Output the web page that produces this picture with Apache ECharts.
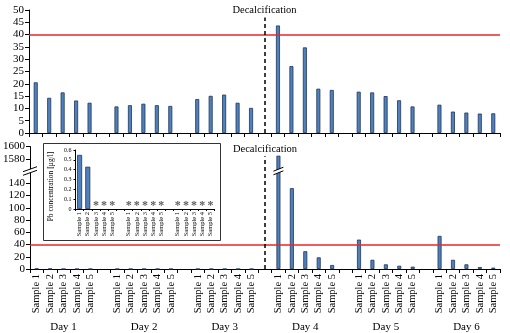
<!DOCTYPE html>
<html><head><meta charset="utf-8">
<script src="https://cdn.jsdelivr.net/npm/echarts@6/dist/echarts.min.js"></script>
<style>html,body{margin:0;padding:0;background:#fff}#c{width:510px;height:333px}</style>
</head><body><div id="c"></div>
<script>
// ---- data ----
const days = ['Day 1', 'Day 2', 'Day 3', 'Day 4', 'Day 5', 'Day 6'];
const samples = ['Sample 1', 'Sample 2', 'Sample 3', 'Sample 4', 'Sample 5'];
// upper panel (Pb concentration, µg/l)
const topDay1 = [20.6, 14.3, 16.5, 13.2, 12.3];
const topDay2 = [10.8, 11.3, 11.9, 11.3, 11.0];
const topDay3 = [13.8, 15.1, 15.6, 12.3, 10.2];
const topDay4 = [43.7, 27.2, 34.8, 18.0, 17.5];
const topDay5 = [16.8, 16.5, 15.0, 13.3, 10.8];
const topDay6 = [11.5, 8.7, 8.3, 7.9, 8.0];
// lower panel (Pb concentration, µg/l)
const botDay1 = [0.55, 0.43, 0, 0, 0];
const botDay2 = [0, 0, 0, 0, 0];
const botDay3 = [0, 0, 0, 0, 0];
const botDay4 = [1585, 132, 29, 19, 6.5];
const botDay5 = [48, 15, 7.6, 5.3, 3.8];
const botDay6 = [54, 15, 7.6, 3.2, 2.2];
// inset (days 1-3 of lower panel); null = not detected (*)
const insetDay1 = [0.55, 0.43, null, null, null];
const insetDay2 = [null, null, null, null, null];
const insetDay3 = [null, null, null, null, null];
const limitValue = 40;
const decalcLabel = 'Decalcification';
const insetAxisName = 'Pb concentration [µg/l]';
// lower axis break: values above breakLow are drawn shifted down by breakShift
const breakLow = 160, breakShift = 1400;
const lowerTickLabels = [0, 20, 40, 60, 80, 100, 120, 140, 1580, 1600];

// ---- build ----
function cats(n) { const c = []; for (let d = 0; d < n; d++) { if (d) c.push(''); samples.forEach(s => c.push(s)); } return c; }
function flat(arrs) { const o = []; arrs.forEach((a, i) => { if (i) o.push(null); a.forEach(v => o.push(v)); }); return o; }
function dayCats(n) { const c = []; for (let d = 0; d < n; d++) { if (d) c.push(''); for (let k = 0; k < 5; k++) c.push(k === 2 ? days[d] : ''); } return c; }
const brk = v => (v == null ? null : (v > breakLow ? v - breakShift : v));

const mainCats = cats(6);
const insetCats = cats(3);
const topData = flat([topDay1, topDay2, topDay3, topDay4, topDay5, topDay6]);
const botData = flat([botDay1, botDay2, botDay3, botDay4, botDay5, botDay6]).map(brk);
const insetData = flat([insetDay1, insetDay2, insetDay3]);
const ndData = insetData.map((v, i) => (v === null && insetCats[i] !== '') ? 0 : null);
const decalcIndex = 3 * 6 - 1; // gap category before Day 4

const FF = 'Liberation Serif';
const blk = '#000';
const barStyle = { color: '#4f81bd', borderColor: '#1f3558', borderWidth: 0.8 };

const chart = echarts.init(document.getElementById('c'), null, { renderer: 'canvas' });
const axisCommon = {
  axisLine: { lineStyle: { color: blk, width: 1 } },
  axisTick: { lineStyle: { color: blk } },
};
const option = {
  animation: false,
  backgroundColor: '#fff',
  textStyle: { fontFamily: FF },
  grid: [
    { left: 29, top: 10, width: 471, height: 123 },
    { left: 29, top: 146.5, width: 471, height: 122.5 },
    { left: 75.5, top: 150, width: 139, height: 59, z: 5 }
  ],
  xAxis: [
    { type: 'category', gridIndex: 0, data: mainCats, ...axisCommon,
      axisTick: { show: true, interval: 0, length: 4, lineStyle: { color: blk } },
      axisLabel: { show: false } },
    { type: 'category', gridIndex: 1, data: mainCats, ...axisCommon,
      axisTick: { show: true, interval: 0, length: 4, lineStyle: { color: blk } },
      axisLabel: { interval: 0, rotate: 90, fontSize: 10.5, fontFamily: FF, color: blk, margin: 5 } },
    { type: 'category', gridIndex: 1, data: dayCats(6), position: 'bottom', offset: 45,
      axisLine: { show: false }, axisTick: { show: false },
      axisLabel: { interval: 0, fontSize: 11, fontFamily: FF, color: blk, margin: 8 } },
    { type: 'category', gridIndex: 2, data: insetCats, z: 6, ...axisCommon,
      axisTick: { show: true, interval: 0, length: 2, lineStyle: { color: blk } },
      axisLabel: { interval: 0, rotate: 90, fontSize: 6.5, fontFamily: FF, color: blk, margin: 3 } }
  ],
  yAxis: [
    { type: 'value', gridIndex: 0, min: 0, max: 50, interval: 5, ...axisCommon,
      axisLine: { show: true, lineStyle: { color: blk } },
      axisTick: { show: true, length: 4, lineStyle: { color: blk } },
      splitLine: { show: false },
      axisLabel: { fontSize: 11, fontFamily: FF, color: blk, margin: 5 } },
    { type: 'value', gridIndex: 1, min: 0, max: 200, interval: 20, ...axisCommon,
      axisLine: { show: true, lineStyle: { color: blk } },
      axisTick: { show: true, length: 4, lineStyle: { color: blk } },
      splitLine: { show: false },
      axisLabel: { fontSize: 11, fontFamily: FF, color: blk, margin: 5,
        formatter: v => { const real = v > breakLow ? v + breakShift : v;
          return lowerTickLabels.indexOf(real) >= 0 ? String(real) : ''; } } },
    { type: 'value', gridIndex: 2, min: 0, max: 0.6, interval: 0.1, z: 6, ...axisCommon,
      axisLine: { show: true, lineStyle: { color: blk } },
      axisTick: { show: true, length: 2, lineStyle: { color: blk } },
      splitLine: { show: false },
      name: insetAxisName, nameLocation: 'middle', nameGap: 20, nameRotate: 90,
      nameTextStyle: { fontSize: 7.5, fontFamily: FF, color: blk, padding: [0, 14, 0, 0] },
      axisLabel: { fontSize: 6, fontFamily: FF, color: blk, margin: 4,
        formatter: v => (v === 0 ? '0' : v.toFixed(1)) } }
  ],
  series: [
    { type: 'bar', xAxisIndex: 0, yAxisIndex: 0, data: topData, barWidth: 4, itemStyle: barStyle,
      markLine: { silent: true, symbol: 'none', animation: false,
        data: [
          { yAxis: limitValue, lineStyle: { color: '#e8262b', width: 1.5, type: 'solid' }, label: { show: false } },
          [ { coord: [decalcIndex, 0] }, { coord: [decalcIndex, 47] } ]
        ],
        lineStyle: { color: blk, width: 1.5, type: [4, 3] },
        label: { show: true, position: 'end', formatter: decalcLabel, fontSize: 10.5, fontFamily: FF, color: blk, distance: 2 } } },
    { type: 'bar', xAxisIndex: 1, yAxisIndex: 1, data: botData, barWidth: 4, itemStyle: barStyle,
      markLine: { silent: true, symbol: 'none', animation: false,
        data: [
          { yAxis: limitValue, lineStyle: { color: '#e8262b', width: 1.5, type: 'solid' }, label: { show: false } },
          [ { coord: [decalcIndex, 0] }, { coord: [decalcIndex, 184] } ]
        ],
        lineStyle: { color: blk, width: 1.5, type: [4, 3] },
        label: { show: true, position: 'end', formatter: decalcLabel, fontSize: 10.5, fontFamily: FF, color: blk, distance: 2 } } },
    { type: 'bar', xAxisIndex: 3, yAxisIndex: 2, data: insetData, barWidth: 5, itemStyle: barStyle, z: 6 },
    { type: 'scatter', xAxisIndex: 3, yAxisIndex: 2, data: ndData, symbolSize: 0.1, z: 6,
      label: { show: true, position: 'top', distance: -3, formatter: '*', fontSize: 12, fontWeight: 'bold', color: '#333' } }
  ],
  graphic: [
    { type: 'rect', z: 3, shape: { x: 43.5, y: 143.5, width: 177, height: 97 },
      style: { fill: '#fff', stroke: '#333', lineWidth: 1 } }
  ]
};
chart.setOption(option);

// axis-break marks on the lower y axis and on the broken bar
function breakMark(x, y, w, s, g) {
  return { type: 'group', z: 10, children: [
    { type: 'polygon', z: 10, shape: { points: [[x - w, y + g + s], [x + w, y + g - s], [x + w, y - g - s], [x - w, y - g + s]] },
      style: { fill: '#fff', stroke: null } },
    { type: 'line', z: 11, shape: { x1: x - w, y1: y + g + s, x2: x + w, y2: y + g - s }, style: { stroke: blk, lineWidth: 1 } },
    { type: 'line', z: 11, shape: { x1: x - w, y1: y - g + s, x2: x + w, y2: y - g - s }, style: { stroke: blk, lineWidth: 1 } }
  ] };
}
const p0 = chart.convertToPixel({ xAxisIndex: 1, yAxisIndex: 1 }, [0, breakLow]);
const gridLeft = chart.getModel().getComponent('grid', 1).coordinateSystem.getRect().x;
const brokenIdx = botData.findIndex(v => v != null && v > breakLow);
const pb = chart.convertToPixel({ xAxisIndex: 1, yAxisIndex: 1 }, [brokenIdx, breakLow]);
chart.setOption({ graphic: [
  option.graphic[0],
  breakMark(gridLeft, p0[1], 7, 2.5, 1.8),
  breakMark(pb[0], pb[1], 5, 2, 1.8)
] });
</script></body></html>
